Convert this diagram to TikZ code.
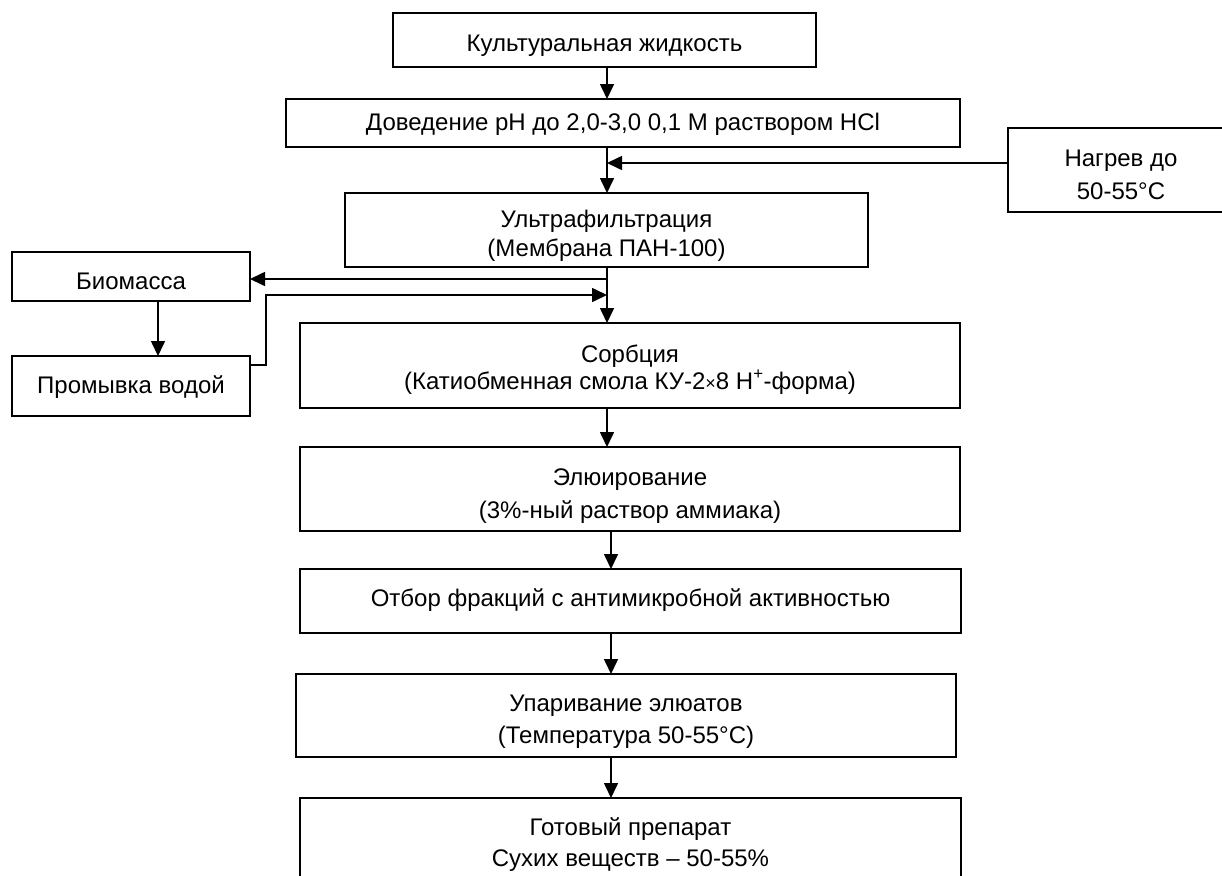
\documentclass[tikz,border=0pt]{standalone}
\usepackage{fontspec}
\setmainfont{Liberation Sans}
\usetikzlibrary{arrows.meta}
\newcommand\mytop[1]{\rule{0pt}{#1pt}}
\newcommand\mybot{\rule[-8pt]{0pt}{8pt}}
\begin{document}
\begin{tikzpicture}[x=1pt,y=-1pt,
  box/.style={draw, line width=1.8pt, inner sep=0pt, outer sep=0pt, align=center,
    font=\fontsize{24}{31}\selectfont},
  conn/.style={line width=1.6pt, -{Triangle[length=15pt,width=14pt]}}]
\useasboundingbox (0,0) rectangle (1222,875);
\fill[white] (0,0) rectangle (1222,875);

\node[box, minimum width=423pt, minimum height=54pt] (kult) at (604.5,40)
  {\mytop{32}Культуральная жидкость\mybot};
\node[box, minimum width=674pt, minimum height=48pt] (dov) at (623,123)
  {\mytop{22.6}Доведение pH до 2,0-3,0 0,1 M раствором HCl\mybot};
\node[box, minimum width=226pt, minimum height=84pt, font=\fontsize{24}{33}\selectfont] (nagrev) at (1121,170)
  {\mytop{33}Нагрев до\\50-55°C\mybot};
\node[box, minimum width=523pt, minimum height=74pt, font=\fontsize{24}{29}\selectfont] (ultra) at (606.5,230)
  {\mytop{31}Ультрафильтрация\\(Мембрана ПАН-100)\mybot};
\node[box, minimum width=238pt, minimum height=49pt] (bio) at (131,276.5)
  {\mytop{34.2}Биомасса\mybot};
\node[box, minimum width=238pt, minimum height=60pt] (prom) at (131,386)
  {\mytop{23.2}Промывка водой\mybot};
\node[box, minimum width=660pt, minimum height=85pt, font=\fontsize{24}{27}\selectfont] (sorb) at (630,365.5)
  {\mytop{28}Сорбция\\(Катиобменная смола КУ-2{\fontsize{18}{18}\selectfont ×}8 H\textsuperscript{+}-форма)\mybot};
\node[box, minimum width=660pt, minimum height=84pt, font=\fontsize{24}{33}\selectfont] (elu) at (630,489)
  {\mytop{34.2}Элюирование\\(3\%-ный раствор аммиака)\mybot};
\node[box, minimum width=661pt, minimum height=64pt] (otbor) at (630.5,601)
  {\mytop{19.2}Отбор фракций с антимикробной активностью\mybot};
\node[box, minimum width=660pt, minimum height=83pt, font=\fontsize{24}{32}\selectfont] (upar) at (626,715.5)
  {\mytop{32.2}Упаривание элюатов\\(Температура 50-55°C)\mybot};
\node[box, minimum width=661pt, minimum height=88pt, font=\fontsize{24}{31}\selectfont] (gotov) at (630.5,842)
  {\mytop{26.2}Готовый препарат\\Сухих веществ – 50-55\%\mybot};

\coordinate (mx) at (607,0);
\coordinate (lx) at (611,0);
\coordinate (bx) at (158,0);
\coordinate (hj) at (607,163);
\coordinate (bj) at (607,279);
\coordinate (rj) at (607,295);
\coordinate (rk) at (266,365);

\draw[conn] (kult.south -| mx) -- (dov.north -| mx);
\draw[conn] (dov.south -| mx) -- (ultra.north -| mx);
\draw[conn] (nagrev.west |- hj) -- (hj);
\draw[conn] (ultra.south -| mx) -- (sorb.north -| mx);
\draw[conn] (bj) -- (bio.east |- bj);
\draw[conn] (bio.south -| bx) -- (prom.north -| bx);
\draw[conn] (prom.east |- rk) -- (rk) -- (rk |- rj) -- (rj);
\draw[conn] (sorb.south -| mx) -- (elu.north -| mx);
\draw[conn] (elu.south -| lx) -- (otbor.north -| lx);
\draw[conn] (otbor.south -| lx) -- (upar.north -| lx);
\draw[conn] (upar.south -| lx) -- (gotov.north -| lx);
\end{tikzpicture}
\end{document}
